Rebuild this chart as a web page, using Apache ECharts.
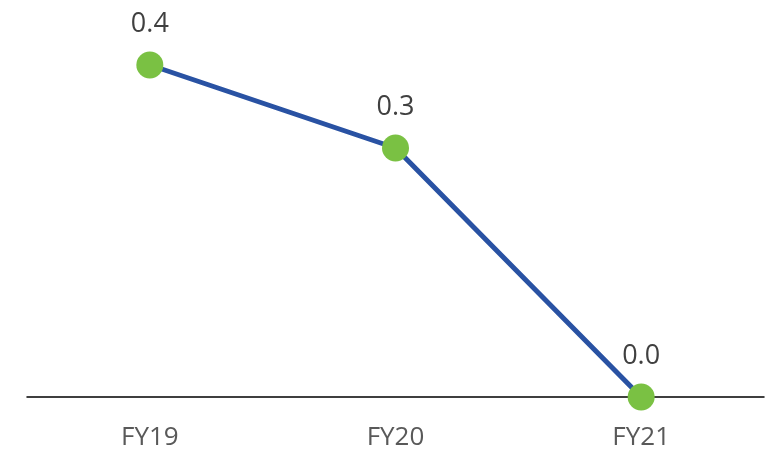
<!DOCTYPE html>
<html><head><meta charset="utf-8">
<script src="https://cdn.jsdelivr.net/npm/echarts@6/dist/echarts.min.js"></script>
<style>html,body{margin:0;padding:0;background:#fff}#c{width:765px;height:454px}</style>
</head><body><div id="c"></div>
<script>
const categories = ['FY19', 'FY20', 'FY21'];
const values = [0.4, 0.3, 0.0];
const chart = echarts.init(document.getElementById('c'));
chart.setOption({
  animation: false,
  grid: {left: 27, right: 1, top: 65, bottom: 57},
  xAxis: {
    type: 'category', data: categories, boundaryGap: true,
    axisLine: {lineStyle: {color: '#000', width: 1.5}},
    axisTick: {show: false},
    axisLabel: {color: '#595959', fontSize: 26, fontFamily: 'Open Sans', margin: 28}
  },
  yAxis: {type: 'value', min: 0, max: 0.4, show: false, splitLine: {show: false}},
  series: [{
    type: 'line', data: values,
    lineStyle: {color: '#2952a3', width: 5},
    symbol: 'circle', symbolSize: 27,
    itemStyle: {color: '#7ac143'},
    label: {show: true, position: 'top', distance: 14, color: '#404040', fontSize: 27, fontFamily: 'Open Sans',
      formatter: p => p.value.toFixed(1)}
  }]
});
</script></body></html>
